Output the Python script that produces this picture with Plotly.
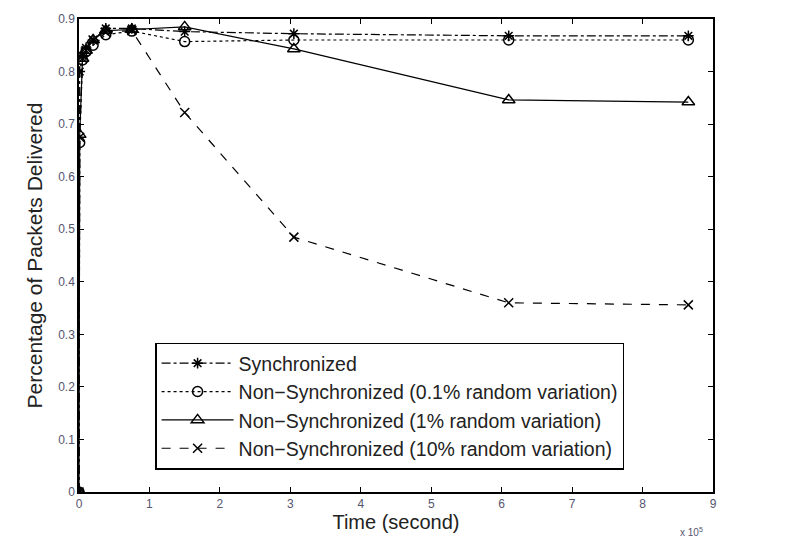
import plotly.graph_objects as go

time_1e5 = [0, 0.01, 0.05, 0.1, 0.2, 0.38, 0.75, 1.5, 3.05, 6.1, 8.65]
sync = [0, 0.80, 0.83, 0.845, 0.86, 0.882, 0.882, 0.876, 0.872, 0.868, 0.868]
nonsync_01 = [0, 0.665, 0.822, 0.838, 0.85, 0.87, 0.877, 0.857, 0.86, 0.86, 0.86]
nonsync_1 = [0, 0.68, 0.825, 0.84, 0.86, 0.878, 0.88, 0.885, 0.843, 0.746, 0.742]
nonsync_10 = [0, 0.675, 0.825, 0.84, 0.86, 0.875, 0.878, 0.722, 0.485, 0.36, 0.356]

names = ["Synchronized",
         "Non\u2212Synchronized (0.1% random variation)",
         "Non\u2212Synchronized (1% random variation)",
         "Non\u2212Synchronized (10% random variation)"]

series = [sync, nonsync_01, nonsync_1, nonsync_10]
dashes = ["dashdot", "dot", "solid", "dash"]
symbols = ["asterisk-open", "circle-open", "triangle-up-open", "x-thin-open"]
sizes = [9, 10, 11, 9]

fig = go.Figure()
for name, ys, d, s, sz in zip(names, series, dashes, symbols, sizes):
    fig.add_trace(go.Scatter(
        x=time_1e5, y=ys, name=name, mode="lines+markers",
        line=dict(color="black", width=1.2, dash=d),
        marker=dict(symbol=s, size=sz, color="black",
                    line=dict(color="black", width=1.5)),
    ))

FONT = "Liberation Sans, Arial"
axis_common = dict(
    showline=True, linecolor="black", linewidth=1.5, mirror="ticks",
    ticks="inside", ticklen=5, tickcolor="black",
    showgrid=False, zeroline=False,
    tickfont=dict(family=FONT, size=12, color="#555570"),
)

fig.update_xaxes(range=[0, 9], tickvals=list(range(10)),
                 title=dict(text="Time (second)", standoff=4,
                            font=dict(family=FONT, size=20, color="#222")),
                 **axis_common)
fig.update_yaxes(range=[0, 0.9], tickvals=[i / 10 for i in range(10)],
                 ticktext=["0"] + [f"{i/10:.1f}" for i in range(1, 10)],
                 title=dict(text="Percentage of Packets Delivered", standoff=10,
                            font=dict(family=FONT, size=21, color="#222")),
                 **axis_common)

fig.add_annotation(x=1.0, y=0, xref="paper", yref="paper", xanchor="right",
                   yanchor="top", yshift=-32, xshift=-8, showarrow=False,
                   text="x 10<sup>5</sup>",
                   font=dict(family=FONT, size=10, color="#555570"))

fig.update_layout(
    width=804, height=542,
    margin=dict(l=79, r=91, t=16, b=50),
    paper_bgcolor="white", plot_bgcolor="white",
    legend=dict(x=0.12, y=0.316, xanchor="left", yanchor="top",
                bordercolor="black", borderwidth=1.5, bgcolor="white",
                font=dict(family=FONT, size=19.5, color="#222"),
                tracegroupgap=0, itemwidth=72),
)

fig.write_html("out.html")
